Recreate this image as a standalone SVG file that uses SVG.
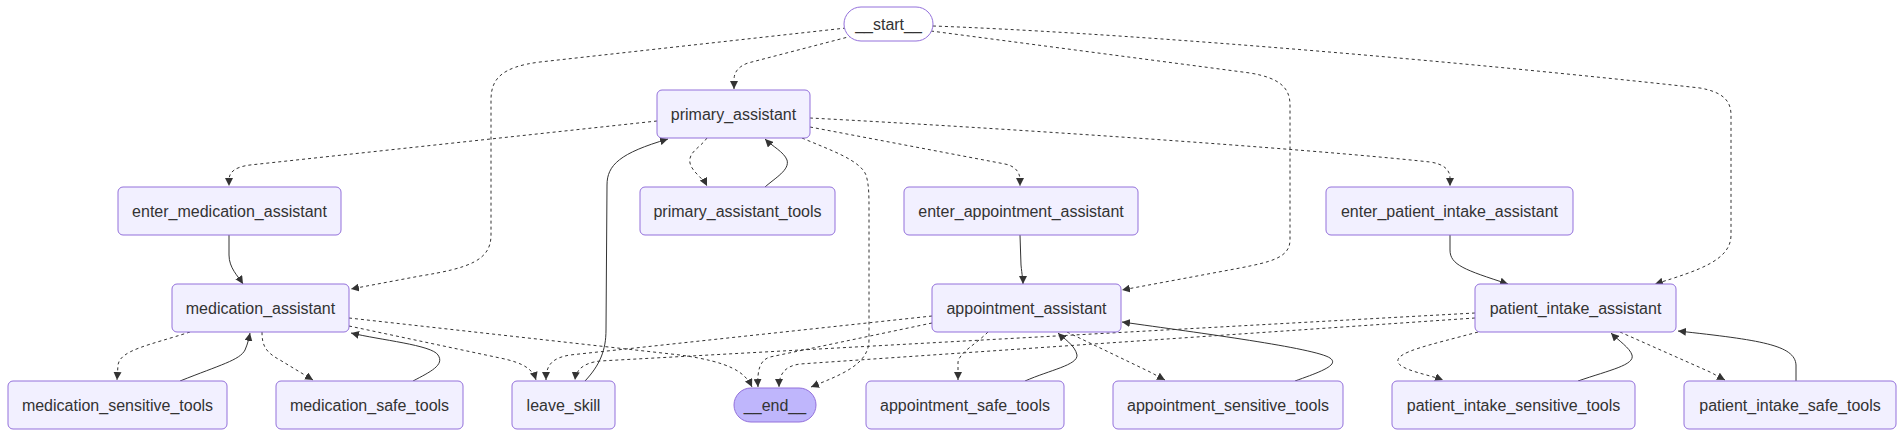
<svg xmlns="http://www.w3.org/2000/svg" width="1904" height="437" viewBox="0 0 1904 437">
<style>
.node rect{fill:#f2f0ff;stroke:#9370db;stroke-width:1}
.node text{font-family:"Liberation Sans",Arial,sans-serif;font-size:16px;fill:#333;text-anchor:middle;dominant-baseline:central}
#start rect{fill:#ffffff}
#end rect{fill:#bfb6fc}
.e{fill:none;stroke:#333;stroke-width:1}
.d{stroke-dasharray:3}
</style>
<defs>
<marker id="ah" viewBox="0 0 10 10" refX="10" refY="5" markerWidth="8" markerHeight="8" markerUnits="userSpaceOnUse" orient="auto">
<path d="M0,0 L10,5 L0,10 z" fill="#333"/>
</marker>
</defs>
<rect width="1904" height="437" fill="#ffffff"/>
<g id="edges">
<path class="e d" marker-end="url(#ah)" d="M852,36 L748,63 Q734,68 734,80 L734,89"/>
<path class="e d" marker-end="url(#ah)" d="M846,28 L540,62 C500,67 491,80 491,100 L491,235 C491,260 470,268 420,276 L351,289"/>
<path class="e d" marker-end="url(#ah)" d="M931,31 L1250,73 C1280,78 1290,88 1290,105 L1290,240 C1290,258 1270,262 1240,268 L1122,290"/>
<path class="e d" marker-end="url(#ah)" d="M933,26 C1100,32 1400,55 1700,88 C1722,92 1731,100 1731,115 L1731,235 C1731,260 1700,270 1655,284"/>
<path class="e d" marker-end="url(#ah)" d="M657,121 L250,165 C235,167 229,172 229,180 L229,186"/>
<path class="e d" marker-end="url(#ah)" d="M707,138 C700,148 688,152 690,163 C692,172 703,178 707,186"/>
<path class="e" marker-end="url(#ah)" d="M765,187 C775,178 790,170 787,160 C784,152 772,146 765,139"/>
<path class="e d" marker-end="url(#ah)" d="M810,127 L1005,164 C1015,166 1020,172 1020,180 L1020,186"/>
<path class="e d" marker-end="url(#ah)" d="M810,118 C1000,128 1300,148 1430,162 C1444,164 1450,170 1450,178 L1450,186"/>
<path class="e d" marker-end="url(#ah)" d="M802,138 C830,150 860,160 866,175 C869,185 869,195 869,210 L869,340 C869,365 840,375 811,387"/>
<path class="e" marker-end="url(#ah)" d="M585,381 C600,365 606,350 606,330 L607,185 C607,165 620,153 668,139"/>
<path class="e" marker-end="url(#ah)" d="M229,235 L229,255 C229,268 238,276 243,284"/>
<path class="e" marker-end="url(#ah)" d="M1020,235 L1021,265 C1022,275 1023,280 1023,284"/>
<path class="e" marker-end="url(#ah)" d="M1450,235 L1450,250 C1450,265 1465,270 1508,284"/>
<path class="e d" marker-end="url(#ah)" d="M190,332 C150,345 120,350 118,365 L117,380"/>
<path class="e" marker-end="url(#ah)" d="M180,381 C220,365 240,360 245,350 C248,343 249,338 250,333"/>
<path class="e d" marker-end="url(#ah)" d="M262,332 C262,345 265,352 280,360 L313,380"/>
<path class="e" marker-end="url(#ah)" d="M413,381 C430,372 445,365 438,355 C432,345 380,340 351,333"/>
<path class="e d" marker-end="url(#ah)" d="M349,326 L500,358 C525,363 533,370 536,380"/>
<path class="e d" marker-end="url(#ah)" d="M349,318 L680,355 C730,362 745,372 752,387"/>
<path class="e d" marker-end="url(#ah)" d="M932,316 L570,355 C552,358 546,365 546,380"/>
<path class="e d" marker-end="url(#ah)" d="M932,323 L770,357 C760,360 757,370 758,387"/>
<path class="e d" marker-end="url(#ah)" d="M1475,313 L600,361 C583,363 576,370 575,380"/>
<path class="e d" marker-end="url(#ah)" d="M1475,318 L800,364 C785,366 779,374 779,387"/>
<path class="e d" marker-end="url(#ah)" d="M988,332 C975,345 960,352 958,362 L958,380"/>
<path class="e" marker-end="url(#ah)" d="M1025,381 C1050,370 1078,365 1077,355 C1075,345 1063,338 1058,333"/>
<path class="e d" marker-end="url(#ah)" d="M1067,332 L1150,372 L1165,380"/>
<path class="e" marker-end="url(#ah)" d="M1295,381 C1320,372 1340,365 1330,358 C1315,348 1200,333 1122,322"/>
<path class="e d" marker-end="url(#ah)" d="M1478,332 C1430,345 1395,352 1398,362 C1400,370 1430,375 1443,380"/>
<path class="e" marker-end="url(#ah)" d="M1578,381 C1610,370 1635,365 1632,355 C1630,348 1618,340 1611,333"/>
<path class="e d" marker-end="url(#ah)" d="M1620,332 L1710,372 L1725,380"/>
<path class="e" marker-end="url(#ah)" d="M1796,381 L1796,365 C1795,345 1760,340 1678,331"/>
</g>
<g id="start" class="node"><rect x="844" y="7" width="89" height="34" rx="17"/><text x="888.5" y="24">__start__</text></g>
<g id="primary_assistant" class="node"><rect x="657" y="90" width="153" height="48" rx="5"/><text x="733.5" y="114">primary_assistant</text></g>
<g id="enter_medication_assistant" class="node"><rect x="118" y="187" width="223" height="48" rx="5"/><text x="229.5" y="211">enter_medication_assistant</text></g>
<g id="primary_assistant_tools" class="node"><rect x="640" y="187" width="195" height="48" rx="5"/><text x="737.5" y="211">primary_assistant_tools</text></g>
<g id="enter_appointment_assistant" class="node"><rect x="904" y="187" width="234" height="48" rx="5"/><text x="1021" y="211">enter_appointment_assistant</text></g>
<g id="enter_patient_intake_assistant" class="node"><rect x="1326" y="187" width="247" height="48" rx="5"/><text x="1449.5" y="211">enter_patient_intake_assistant</text></g>
<g id="medication_assistant" class="node"><rect x="172" y="284" width="177" height="48" rx="5"/><text x="260.5" y="308">medication_assistant</text></g>
<g id="appointment_assistant" class="node"><rect x="932" y="284" width="189" height="48" rx="5"/><text x="1026.5" y="308">appointment_assistant</text></g>
<g id="patient_intake_assistant" class="node"><rect x="1475" y="284" width="201" height="48" rx="5"/><text x="1575.5" y="308">patient_intake_assistant</text></g>
<g id="medication_sensitive_tools" class="node"><rect x="8" y="381" width="219" height="48" rx="5"/><text x="117.5" y="405">medication_sensitive_tools</text></g>
<g id="medication_safe_tools" class="node"><rect x="276" y="381" width="187" height="48" rx="5"/><text x="369.5" y="405">medication_safe_tools</text></g>
<g id="leave_skill" class="node"><rect x="512" y="381" width="103" height="48" rx="5"/><text x="563.5" y="405">leave_skill</text></g>
<g id="end" class="node"><rect x="734" y="388" width="82" height="34" rx="17"/><text x="775" y="405">__end__</text></g>
<g id="appointment_safe_tools" class="node"><rect x="866" y="381" width="198" height="48" rx="5"/><text x="965" y="405">appointment_safe_tools</text></g>
<g id="appointment_sensitive_tools" class="node"><rect x="1113" y="381" width="230" height="48" rx="5"/><text x="1228" y="405">appointment_sensitive_tools</text></g>
<g id="patient_intake_sensitive_tools" class="node"><rect x="1392" y="381" width="243" height="48" rx="5"/><text x="1513.5" y="405">patient_intake_sensitive_tools</text></g>
<g id="patient_intake_safe_tools" class="node"><rect x="1684" y="381" width="212" height="48" rx="5"/><text x="1790" y="405">patient_intake_safe_tools</text></g>
</svg>
